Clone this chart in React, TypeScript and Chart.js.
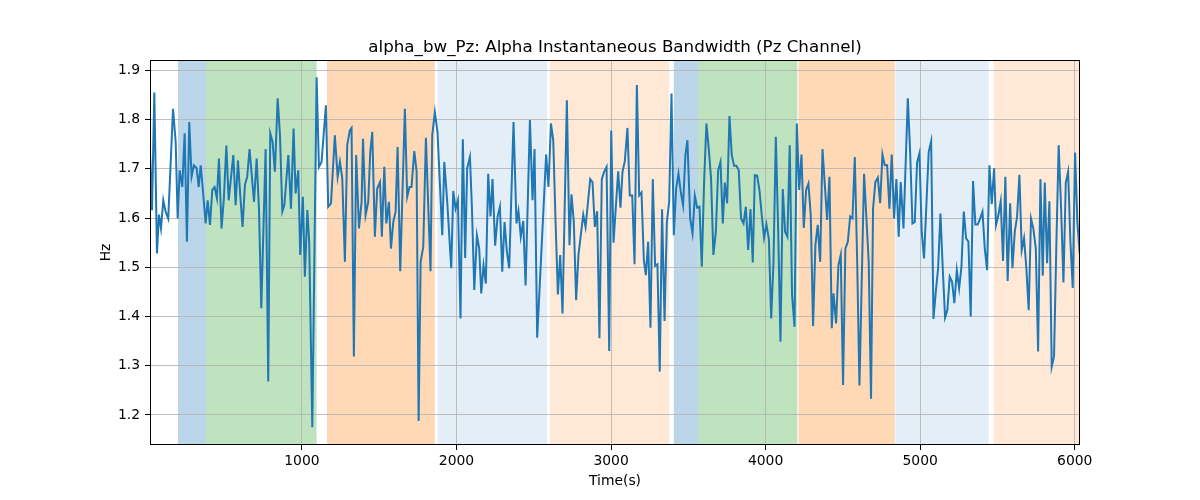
import React, { useEffect, useRef } from "react";
import { Chart, registerables } from "chart.js";

Chart.register(...registerables);

const chartTitle = "alpha_bw_Pz: Alpha Instantaneous Bandwidth (Pz Channel)";
const xAxisLabel = "Time(s)";
const yAxisLabel = "Hz";

const xTicks = [1000, 2000, 3000, 4000, 5000, 6000];
const yTicks = [1.2, 1.3, 1.4, 1.5, 1.6, 1.7, 1.8, 1.9];
const xRange = [17, 6034];
const yRange = [1.139, 1.921];

const timeSeconds = [
  17, 30, 45, 62, 75, 88, 103, 118, 135, 166, 183, 196, 209, 226, 241, 256, 271, 286, 301, 319, 332, 345, 362, 377, 390, 405, 420, 435, 450, 463, 480, 495, 511, 526, 556, 571, 586, 601, 616, 631, 646, 661, 690, 707, 722, 737, 765, 782, 795, 810, 825,
  843, 858, 873, 886, 912, 929, 946, 959, 976, 989, 1006, 1019, 1035, 1047, 1067, 1095, 1110, 1127, 1155, 1170, 1188, 1213, 1231, 1246, 1261, 1278, 1293, 1310, 1321, 1336, 1351, 1369, 1386, 1395, 1412, 1429, 1442, 1455, 1472, 1487, 1505, 1517, 1533, 1546, 1563, 1576,
  1591, 1606, 1619, 1636, 1666, 1681, 1696, 1709, 1727, 1742, 1755, 1768, 1785, 1802, 1832, 1843, 1860, 1877, 1908, 1921, 1940, 1966, 1979, 1994, 2009, 2026, 2041, 2056, 2069, 2087, 2100, 2115, 2132, 2147, 2160, 2175, 2190, 2205, 2220, 2233, 2250, 2266, 2281, 2296, 2311, 2326, 2341, 2369,
  2388, 2401, 2416, 2432, 2447, 2475, 2492, 2505, 2522, 2580, 2595, 2611, 2626, 2641, 2656, 2671, 2686, 2714, 2731, 2744, 2759, 2774, 2789, 2820, 2835, 2850, 2865, 2880, 2895, 2910, 2925, 2940, 2955, 2971, 2988, 3001, 3016, 3046, 3061, 3074, 3089, 3106, 3121, 3137, 3152,
  3167, 3182, 3197, 3212, 3225, 3240, 3255, 3270, 3285, 3300, 3315, 3330, 3346, 3361, 3376, 3391, 3406, 3421, 3436, 3451, 3466, 3481, 3494, 3512, 3527, 3542, 3557, 3572, 3587, 3602, 3617, 3632, 3647, 3662, 3678, 3693, 3708, 3723, 3736, 3751, 3766, 3781, 3796, 3811, 3826, 3841, 3857, 3872, 3887, 3902, 3917, 3930,
  3945, 3960, 3975, 3990, 4005, 4021, 4036, 4051, 4066, 4081, 4096, 4111, 4126, 4141, 4156, 4171, 4187, 4202, 4217, 4232, 4247, 4262, 4277, 4292, 4307, 4322, 4337, 4353, 4368, 4383, 4398, 4413, 4428, 4439, 4456, 4471, 4486, 4501, 4516, 4532, 4547, 4562, 4577, 4592, 4607, 4637, 4667, 4682,
  4695, 4710, 4726, 4741, 4756, 4771, 4786, 4801, 4816, 4831, 4846, 4861, 4874, 4892, 4920, 4935, 4950, 4965, 4980, 4995, 5010, 5025, 5055, 5071, 5086, 5101, 5116, 5131, 5146, 5161, 5176, 5191, 5206, 5221, 5237, 5252, 5267, 5282, 5297, 5312, 5327, 5342, 5357, 5372, 5387, 5403, 5418, 5433, 5448, 5463, 5478,
  5491, 5506, 5521, 5536, 5551, 5566, 5582, 5597, 5612, 5627, 5642, 5657, 5672, 5687, 5702, 5717, 5732, 5748, 5763, 5778, 5793, 5806, 5821, 5836, 5851, 5866, 5881, 5896, 5911, 5927, 5942, 5957, 5972, 5987, 6002, 6017, 6032,
];

const bandwidthHz = [
  1.734, 1.616, 1.855, 1.528, 1.607, 1.579, 1.636, 1.613, 1.599, 1.822, 1.755, 1.599, 1.697, 1.663, 1.772, 1.552, 1.795, 1.684, 1.707, 1.701, 1.663, 1.707, 1.646, 1.589, 1.636, 1.586, 1.657, 1.663, 1.640, 1.721, 1.579, 1.640, 1.747, 1.636, 1.728, 1.626, 1.717, 1.646, 1.582, 1.667, 1.684, 1.740, 1.633, 1.721, 1.619, 1.417, 1.740, 1.268, 1.772, 1.755, 1.694,
  1.843, 1.768, 1.613, 1.626, 1.728, 1.619, 1.782, 1.650, 1.697, 1.525, 1.643, 1.481, 1.616, 1.552, 1.175, 1.886, 1.704, 1.714, 1.829, 1.623, 1.630, 1.768, 1.684, 1.714, 1.680, 1.511, 1.748, 1.778, 1.783, 1.319, 1.728, 1.579, 1.633, 1.761, 1.606, 1.633, 1.734, 1.775, 1.562, 1.660, 1.673, 1.562, 1.704, 1.589, 1.633, 1.538,
  1.592, 1.613, 1.744, 1.492, 1.822, 1.643, 1.663, 1.663, 1.736, 1.694, 1.188, 1.511, 1.542, 1.763, 1.492, 1.768, 1.815, 1.775, 1.565, 1.714, 1.633, 1.498, 1.655, 1.619, 1.636, 1.396, 1.760, 1.519, 1.701, 1.724, 1.619, 1.454, 1.565, 1.538, 1.447, 1.504, 1.467, 1.690, 1.603, 1.679, 1.544, 1.603, 1.623, 1.491, 1.592, 1.532, 1.498, 1.795,
  1.589, 1.614, 1.562, 1.594, 1.463, 1.799, 1.636, 1.740, 1.357, 1.729, 1.663, 1.792, 1.758, 1.592, 1.445, 1.525, 1.406, 1.839, 1.545, 1.648, 1.592, 1.433, 1.525, 1.607, 1.582, 1.630, 1.679, 1.673, 1.582, 1.614, 1.356, 1.679, 1.694, 1.704, 1.330, 1.778, 1.550, 1.695, 1.621, 1.694, 1.715, 1.783, 1.646, 1.646, 1.506,
  1.870, 1.646, 1.652, 1.515, 1.484, 1.552, 1.377, 1.679, 1.503, 1.506, 1.288, 1.618, 1.391, 1.592, 1.633, 1.853, 1.565, 1.660, 1.690, 1.653, 1.626, 1.728, 1.758, 1.599, 1.569, 1.645, 1.621, 1.623, 1.501, 1.673, 1.792, 1.741, 1.680, 1.525, 1.572, 1.697, 1.714, 1.589, 1.672, 1.630, 1.807, 1.728, 1.706, 1.706, 1.697, 1.599, 1.589, 1.623, 1.535, 1.618, 1.510, 1.687,
  1.686, 1.657, 1.606, 1.560, 1.587, 1.557, 1.396, 1.511, 1.765, 1.579, 1.349, 1.659, 1.572, 1.562, 1.748, 1.444, 1.379, 1.792, 1.657, 1.729, 1.580, 1.657, 1.670, 1.606, 1.381, 1.545, 1.586, 1.511, 1.740, 1.667, 1.596, 1.684, 1.376, 1.447, 1.386, 1.504, 1.525, 1.261, 1.538, 1.552, 1.603, 1.599, 1.724, 1.518, 1.260, 1.690, 1.511, 1.233,
  1.619, 1.673, 1.682, 1.630, 1.729, 1.707, 1.707, 1.619, 1.729, 1.599, 1.679, 1.562, 1.673, 1.579, 1.843, 1.734, 1.589, 1.592, 1.713, 1.731, 1.572, 1.518, 1.734, 1.756, 1.395, 1.450, 1.498, 1.609, 1.498, 1.398, 1.413, 1.481, 1.471, 1.427, 1.494, 1.457, 1.501, 1.613, 1.559, 1.552, 1.400, 1.675, 1.587, 1.587, 1.598, 1.613, 1.538, 1.494, 1.707, 1.628, 1.701,
  1.586, 1.606, 1.634, 1.513, 1.684, 1.472, 1.630, 1.498, 1.572, 1.603, 1.688, 1.535, 1.559, 1.498, 1.413, 1.599, 1.579, 1.538, 1.329, 1.679, 1.483, 1.672, 1.508, 1.634, 1.298, 1.319, 1.545, 1.748, 1.626, 1.469, 1.672, 1.694, 1.552, 1.458, 1.733, 1.592, 1.528,
];

// Shaded phases
const spanStarts = [198, 379, 1162, 1877, 2604, 3406, 3565, 4212, 4840, 5476];
const spanEnds = [379, 1095, 1860, 2585, 3376, 3565, 4205, 4836, 5443, 6034];
const spanKinds = ["blue", "green", "orange", "paleBlue", "paleOrange", "blue", "green", "orange", "paleBlue", "paleOrange"];

const SPAN_FILL: Record<string, string> = {
  blue: "rgba(31,119,180,0.3)",
  green: "rgba(44,160,44,0.3)",
  orange: "rgba(255,127,14,0.3)",
  paleBlue: "rgba(31,119,180,0.12)",
  paleOrange: "rgba(255,127,14,0.17)",
};

const FONT = "'DejaVu Sans', 'Liberation Sans', sans-serif";

export default function App() {
  const canvasRef = useRef<HTMLCanvasElement | null>(null);

  useEffect(() => {
    const canvas = canvasRef.current;
    if (!canvas) return;

    const spansPlugin = {
      id: "spans",
      beforeDraw(chart: any) {
        const { ctx, chartArea, scales } = chart;
        const xs = scales.x;
        ctx.save();
        ctx.beginPath();
        ctx.rect(chartArea.left, chartArea.top, chartArea.right - chartArea.left, chartArea.bottom - chartArea.top);
        ctx.clip();
        spanStarts.forEach((s, i) => {
          const x0 = xs.getPixelForValue(s);
          const x1 = xs.getPixelForValue(spanEnds[i]);
          ctx.fillStyle = SPAN_FILL[spanKinds[i]];
          ctx.fillRect(x0, chartArea.top, x1 - x0, chartArea.bottom - chartArea.top);
        });
        ctx.restore();
      },
    };

    const framePlugin = {
      id: "frame",
      afterDraw(chart: any) {
        const { ctx, chartArea } = chart;
        ctx.save();
        ctx.strokeStyle = "#000";
        ctx.lineWidth = 1;
        ctx.strokeRect(
          Math.round(chartArea.left) + 0.5,
          Math.round(chartArea.top) + 0.5,
          Math.round(chartArea.right - chartArea.left) - 1,
          Math.round(chartArea.bottom - chartArea.top) - 1
        );
        ctx.fillStyle = "#000";
        ctx.textAlign = "center";
        ctx.font = `16.7px ${FONT}`;
        ctx.textBaseline = "alphabetic";
        ctx.fillText(chartTitle, (chartArea.left + chartArea.right) / 2, chartArea.top - 8.3);
        ctx.font = `13.9px ${FONT}`;
        ctx.textBaseline = "middle";
        ctx.fillText(xAxisLabel, (chartArea.left + chartArea.right) / 2, 481);
        ctx.translate(106, (chartArea.top + chartArea.bottom) / 2);
        ctx.rotate(-Math.PI / 2);
        ctx.fillText(yAxisLabel, 0, 0);
        ctx.restore();
      },
    };

    const chart = new Chart(canvas, {
      type: "line",
      data: {
        datasets: [
          {
            data: timeSeconds.map((t, i) => ({ x: t, y: bandwidthHz[i] })),
            borderColor: "#1f77b4",
            borderWidth: 2,
            pointRadius: 0,
            tension: 0,
            fill: false,
          },
        ],
      },
      options: {
        animation: false,
        responsive: false,
        devicePixelRatio: 1,
        layout: { padding: { top: 60, right: 120, left: 0, bottom: 0 } },
        plugins: {
          legend: { display: false },
          title: { display: false },
          tooltip: { enabled: false },
        },
        scales: {
          x: {
            type: "linear",
            min: xRange[0],
            max: xRange[1],
            afterFit(scale: any) {
              scale.height = 55;
            },
            afterBuildTicks(scale: any) {
              scale.ticks = xTicks.map((v) => ({ value: v }));
            },
            ticks: {
              autoSkip: false,
              maxRotation: 0,
              color: "#000",
              padding: 3,
              font: { family: FONT, size: 13.9 },
              callback: (v: any) => String(v),
            },
            grid: {
              color: "#b0b0b0",
              lineWidth: 0.8,
              tickColor: "#000",
              tickLength: 5,
              tickWidth: 1,
            },
            border: { display: false },
          },
          y: {
            type: "linear",
            min: yRange[0],
            max: yRange[1],
            afterFit(scale: any) {
              scale.width = 150;
            },
            afterBuildTicks(scale: any) {
              scale.ticks = yTicks.map((v) => ({ value: v }));
            },
            ticks: {
              autoSkip: false,
              color: "#000",
              padding: 5,
              font: { family: FONT, size: 13.9 },
              callback: (v: any) => Number(v).toFixed(1),
            },
            grid: {
              color: "#b0b0b0",
              lineWidth: 0.8,
              tickColor: "#000",
              tickLength: 5,
              tickWidth: 1,
            },
            border: { display: false },
          },
        },
      },
      plugins: [spansPlugin, framePlugin],
    });

    return () => chart.destroy();
  }, []);

  return (
    <div style={{ position: "absolute", left: 0, top: 0, width: 1200, height: 500, background: "#fff" }}>
      <canvas ref={canvasRef} width={1200} height={500} style={{ width: 1200, height: 500 }} />
    </div>
  );
}
